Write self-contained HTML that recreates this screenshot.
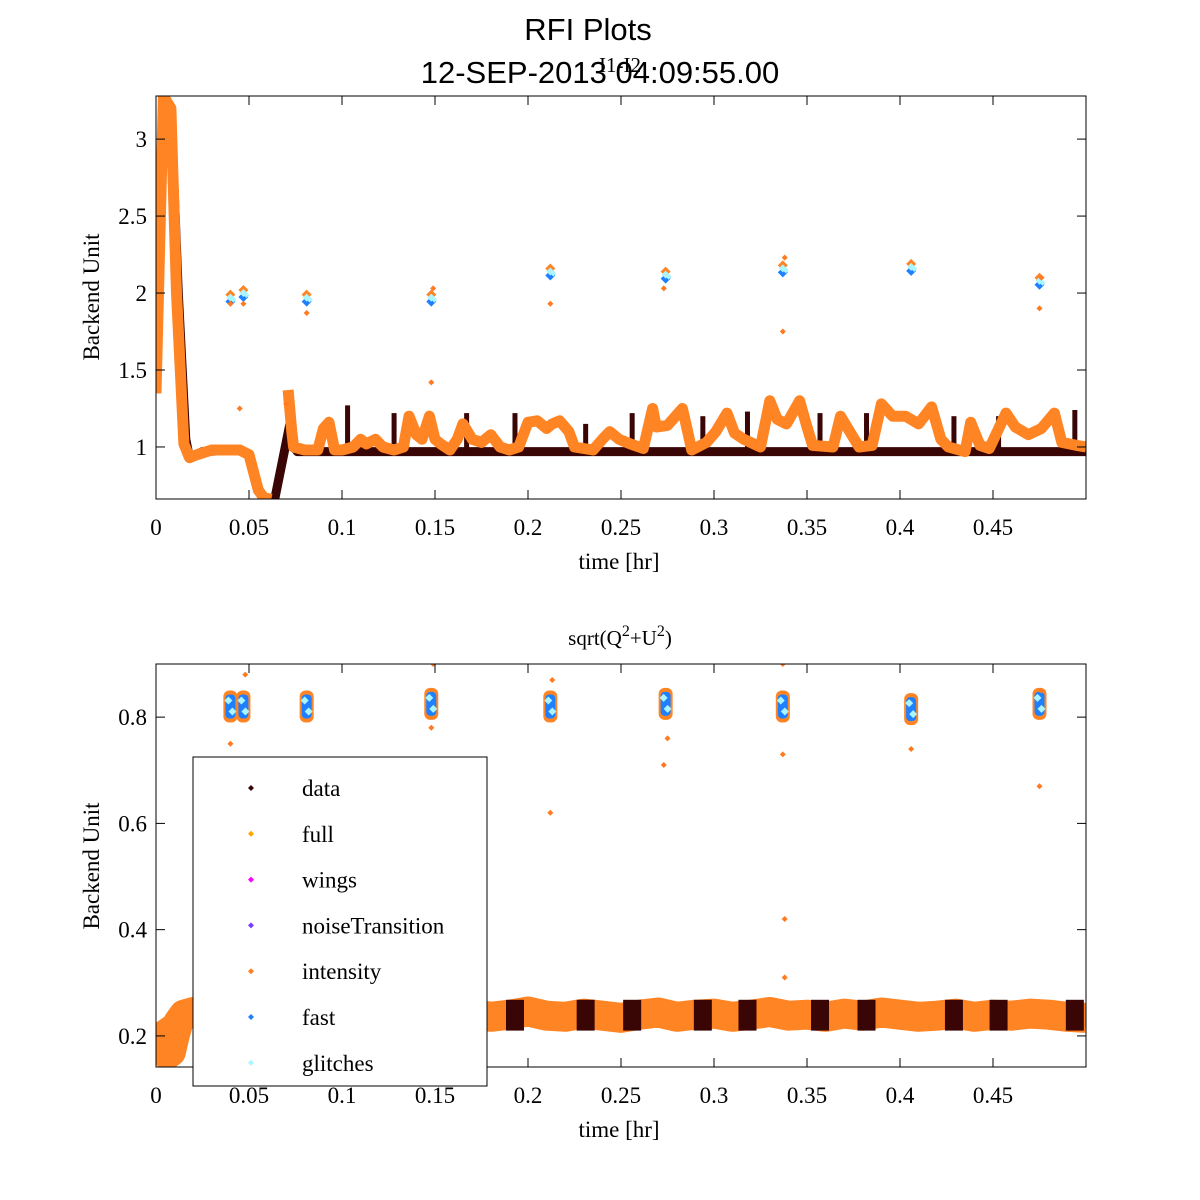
<!DOCTYPE html>
<html><head><meta charset="utf-8">
<style>
body{margin:0;background:#fff;}
svg{display:block;}
.serif{font-family:"Liberation Serif",serif;}
.sans{font-family:"Liberation Sans",sans-serif;}
</style></head>
<body>
<svg id="chart" width="1200" height="1200" viewBox="0 0 1200 1200">
<rect width="1200" height="1200" fill="#fff"/>
<text class="sans" x="588" y="40" font-size="31" text-anchor="middle">RFI Plots</text>
<text class="sans" x="600" y="83" font-size="31" text-anchor="middle">12-SEP-2013 04:09:55.00</text>
<text class="serif" x="620" y="72" font-size="21" text-anchor="middle">I1-I2</text>
<text class="serif" x="620" y="645" font-size="21" text-anchor="middle">sqrt(Q<tspan dy="-9" font-size="16">2</tspan><tspan dy="9">+U</tspan><tspan dy="-9" font-size="16">2</tspan><tspan dy="9">)</tspan></text>
<g id="top"></g>
<g id="bot"></g>
<g id="legend"></g>
</svg>
<script>
// ---- data arrays ----
const xTicks = [0,0.05,0.1,0.15,0.2,0.25,0.3,0.35,0.4,0.45];
const xTickLabels = ["0","0.05","0.1","0.15","0.2","0.25","0.3","0.35","0.4","0.45"];
const topYTicks = [1,1.5,2,2.5,3];
const topYTickLabels = ["1","1.5","2","2.5","3"];
const botYTicks = [0.2,0.4,0.6,0.8];
const botYTickLabels = ["0.2","0.4","0.6","0.8"];
// top "data" (dark) trace knots
const darkT = [0,0.004,0.008,0.012,0.016,0.018,0.025,0.045,0.05,0.055,0.059,0.064,0.072,0.074,0.076,0.5];
const darkV = [1.35,3.28,3.2,2.0,1.05,0.93,0.97,0.98,0.95,0.72,0.66,0.67,1.15,1.0,0.97,0.97];
// dark spikes
const spikeT = [0.103,0.128,0.167,0.193,0.231,0.256,0.294,0.318,0.357,0.382,0.429,0.453,0.494];
const spikeV = [1.27,1.22,1.22,1.22,1.15,1.22,1.2,1.23,1.22,1.22,1.2,1.2,1.24];
// top orange (full/intensity) trace knots, null = gap
const orT = [0,0.004,0.008,0.011,0.015,0.018,0.022,0.03,0.045,0.05,0.055,0.058,0.062,null,0.071,0.073,0.074,0.08,0.087,0.09,0.093,0.096,0.1,0.106,0.11,0.113,0.118,0.122,0.128,0.133,0.136,0.14,0.143,0.147,0.15,0.153,0.158,0.162,0.165,0.17,0.175,0.18,0.185,0.19,0.195,0.2,0.205,0.21,0.213,0.217,0.222,0.225,0.235,0.24,0.244,0.249,0.255,0.262,0.267,0.269,0.275,0.283,0.286,0.288,0.296,0.301,0.307,0.311,0.316,0.325,0.33,0.334,0.339,0.346,0.35,0.353,0.364,0.368,0.373,0.378,0.385,0.39,0.396,0.403,0.41,0.417,0.422,0.426,0.435,0.438,0.443,0.448,0.457,0.462,0.469,0.476,0.483,0.487,0.495,0.5];
const orV = [1.35,3.28,3.2,2.0,1.02,0.93,0.95,0.98,0.98,0.95,0.72,0.67,0.66,null,1.37,1.1,1.0,0.98,0.98,1.12,1.16,0.98,0.98,1.0,1.05,1.02,1.05,1.0,0.98,1.0,1.2,1.08,1.05,1.2,1.05,1.02,0.98,1.05,1.15,1.05,1.03,1.08,1.0,0.98,1.0,1.16,1.17,1.12,1.15,1.17,1.1,1.0,0.98,1.05,1.1,1.05,1.02,0.99,1.25,1.13,1.14,1.25,1.09,0.98,1.03,1.1,1.22,1.09,1.05,1.0,1.3,1.18,1.15,1.3,1.13,1.01,1.0,1.2,1.1,1.0,1.01,1.28,1.2,1.2,1.15,1.26,1.05,1.0,0.97,1.16,1.01,0.99,1.22,1.13,1.08,1.12,1.22,1.03,1.01,1.0];
// clusters (calibration blips)
const clusterT = [0.04,0.047,0.081,0.148,0.212,0.274,0.337,0.406,0.475];
const clusterTopV = [1.97,2.0,1.97,1.97,2.14,2.12,2.16,2.17,2.08];
const clusterBotV = [0.82,0.82,0.82,0.825,0.82,0.825,0.82,0.815,0.825];
// scattered intensity outliers
const outTopT = [0.04,0.047,0.081,0.148,0.149,0.212,0.273,0.337,0.338,0.475,0.476,0.045,0.07];
const outTopV = [1.93,1.93,1.87,1.42,2.03,1.93,2.03,1.75,2.23,1.9,2.1,1.25,1.28];
const outBotT = [0.04,0.048,0.148,0.149,0.212,0.213,0.273,0.275,0.337,0.338,0.338,0.406,0.404,0.475,0.476,0.337];
const outBotV = [0.75,0.88,0.78,0.9,0.62,0.87,0.71,0.76,0.73,0.42,0.31,0.74,0.13,0.67,0.85,0.9];
// bottom band knots
const bandT = [0,0.002,0.004,0.006,0.008,0.01,0.012,0.015,0.02,0.03,0.04,0.05,0.06,0.07,0.08,0.09,0.1,0.11,0.12,0.13,0.14,0.15,0.16,0.17,0.18,0.19,0.2,0.21,0.22,0.23,0.24,0.25,0.26,0.27,0.28,0.29,0.3,0.31,0.32,0.33,0.34,0.35,0.36,0.37,0.38,0.39,0.4,0.41,0.42,0.43,0.44,0.45,0.46,0.47,0.48,0.49,0.5];
const bandV = [0.225,0.215,0.19,0.165,0.17,0.2,0.225,0.24,0.245,0.24,0.236,0.242,0.238,0.244,0.24,0.236,0.243,0.239,0.235,0.242,0.24,0.245,0.238,0.242,0.236,0.24,0.246,0.238,0.236,0.242,0.238,0.234,0.24,0.244,0.236,0.24,0.242,0.236,0.24,0.245,0.238,0.24,0.236,0.242,0.238,0.244,0.24,0.236,0.238,0.242,0.236,0.24,0.238,0.242,0.24,0.236,0.234];
const legendLabels = ["data","full","wings","noiseTransition","intensity","fast","glitches"];
const legendColors = ["#3a0505","#ffa500","#ff00ff","#7a3cff","#ff8020","#1e80ff","#aaf5ff"];

const NS="http://www.w3.org/2000/svg";
function mk(tag,attrs,parent){const e=document.createElementNS(NS,tag);for(const k in attrs)e.setAttribute(k,attrs[k]);parent.appendChild(e);return e;}
const X0=156,X1=1086;
const sx=t=>X0+(t/0.5)*(X1-X0);
function makeY(top,bot,vmin,vmax){return v=>bot-(v-vmin)/(vmax-vmin)*(bot-top);}
const syT=makeY(96,499,0.662,3.28);
const syB=makeY(664,1067,0.1415,0.9);
function pathD(ts,vs,sy){let d="",pen=false;for(let i=0;i<ts.length;i++){if(ts[i]===null){pen=false;continue;}d+=(pen?"L":"M")+sx(ts[i]).toFixed(1)+" "+sy(vs[i]).toFixed(1);pen=true;}return d;}
function diamond(g,x,y,r,c){const p=mk("path",{d:`M${x} ${y-r}L${x+r} ${y}L${x} ${y+r}L${x-r} ${y}Z`,fill:c},g);return p;}

function axes(g,top,bot,yt,ytl,sy,yTitleY){
  const fr=mk("rect",{x:X0,y:top,width:X1-X0,height:bot-top,fill:"none",stroke:"#000","stroke-width":1},g);
  
  
  xTicks.forEach((t,i)=>{const x=sx(t);
    mk("line",{x1:x,x2:x,y1:bot,y2:bot-9,stroke:"#000"},g);
    mk("line",{x1:x,x2:x,y1:top,y2:top+9,stroke:"#000"},g);
    const tx=mk("text",{x:x,y:bot+36,"font-size":23,"text-anchor":"middle",class:"serif"},g);tx.textContent=xTickLabels[i];
    
    });
  yt.forEach((v,i)=>{const y=sy(v);
    mk("line",{x1:X0,x2:X0+9,y1:y,y2:y,stroke:"#000"},g);
    mk("line",{x1:X1,x2:X1-9,y1:y,y2:y,stroke:"#000"},g);
    const tx=mk("text",{x:X0-9,y:y+8,"font-size":23,"text-anchor":"end",class:"serif"},g);tx.textContent=ytl[i];
    
    });
  const xt=mk("text",{x:619,y:bot+70,"font-size":23,"text-anchor":"middle",class:"serif"},g);xt.textContent="time [hr]";
  
  
  const yy=mk("text",{x:0,y:0,"font-size":23,"text-anchor":"middle",class:"serif",transform:`translate(99,${yTitleY}) rotate(-90)`},g);yy.textContent="Backend Unit";
  
  
}

// ---- top ----
const gt=document.getElementById("top");
const cT=mk("clipPath",{id:"clipT"},gt);mk("rect",{x:X0,y:96,width:X1-X0,height:403},cT);
const pt=mk("g",{"clip-path":"url(#clipT)"},gt);
const dk=mk("path",{d:pathD(darkT,darkV,syT),fill:"none",stroke:"#3a0505","stroke-width":9,"stroke-linejoin":"round"},pt);


spikeT.forEach((t,i)=>{const s=mk("line",{x1:sx(t),x2:sx(t),y1:syT(0.96),y2:syT(spikeV[i]),stroke:"#3a0505","stroke-width":5},pt);
  
  });
const op=mk("path",{d:pathD(orT,orV,syT),fill:"none",stroke:"#ff8424","stroke-width":11,"stroke-linejoin":"round"},pt);


clusterT.forEach((t,i)=>{const x=sx(t),y=syT(clusterTopV[i]);
  const c=diamond(pt,x,y-3,5,"#ff8424");
  diamond(pt,x,y+4,5,"#1e80ff");diamond(pt,x,y,4,"#aaf5ff");diamond(pt,x+3,y+2,3,"#aaf5ff");});
outTopT.forEach((t,i)=>{const d=diamond(pt,sx(t),syT(outTopV[i]),3,"#ff7a20");
  
  });
axes(gt,96,499,topYTicks,topYTickLabels,syT,297);

// ---- bottom ----
const gb=document.getElementById("bot");
const cB=mk("clipPath",{id:"clipB"},gb);mk("rect",{x:X0,y:664,width:X1-X0,height:403},cB);
const pb=mk("g",{"clip-path":"url(#clipB)"},gb);
const bp=mk("path",{d:pathD(bandT,bandV,syB),fill:"none",stroke:"#ff8424","stroke-width":30,"stroke-linejoin":"round"},pb);


spikeT.forEach((t,i)=>{const r=mk("rect",{x:sx(t)-9,y:syB(0.268),width:18,height:syB(0.21)-syB(0.268),fill:"#3a0505"},pb);
  
  });
clusterT.forEach((t,i)=>{const x=sx(t),y=syB(clusterBotV[i]);
  const r=mk("rect",{x:x-7,y:y-16,width:14,height:32,rx:6,fill:"#ff8424"},pb);
  
  
  mk("rect",{x:x-5,y:y-12,width:10,height:24,rx:4,fill:"#1e80ff"},pb);
  diamond(pb,x-2,y-6,4,"#aaf5ff");diamond(pb,x+2,y+5,4,"#aaf5ff");});
outBotT.forEach((t,i)=>{const d=diamond(pb,sx(t),syB(outBotV[i]),3,"#ff7a20");
  
  });
axes(gb,664,1067,botYTicks,botYTickLabels,syB,866);

// ---- legend ----
const lg=document.getElementById("legend");
mk("rect",{x:193,y:757,width:294,height:329,fill:"#fff",stroke:"#000","stroke-width":1},lg);
legendLabels.forEach((lab,i)=>{const y=788+i*45.8;
  const d=diamond(lg,251,y,3,legendColors[i]);
  
  
  const t=mk("text",{x:302,y:y+8,"font-size":23,class:"serif"},lg);t.textContent=lab;
  
  });
</script>
</body></html>
